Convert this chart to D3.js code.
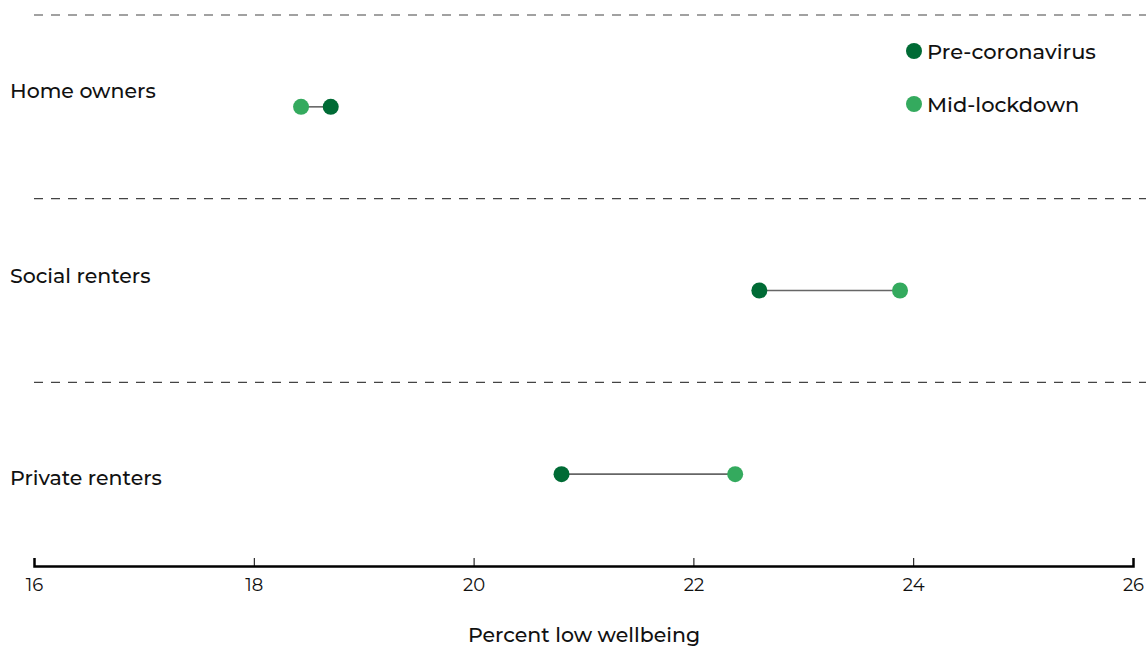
<!DOCTYPE html>
<html><head><meta charset="utf-8">
<script src="https://cdn.jsdelivr.net/npm/d3@7"></script>
<style>body{margin:0;background:#fff}svg{display:block;font-family:Montserrat,"Open Sans",Lato,sans-serif}</style>
</head><body><svg id="c" width="1146" height="647"></svg>
<script>
const categories = ["Home owners", "Social renters", "Private renters"];
const preCorona = [18.7, 22.6, 20.8];
const midLockdown = [18.43, 23.88, 22.38];
const xTicks = [16, 18, 20, 22, 24, 26];
const seriesNames = ["Pre-coronavirus", "Mid-lockdown"];
const colors = ["#006b35", "#34aa5e"];

const svg = d3.select("#c");
const x = d3.scaleLinear().domain([16, 26]).range([34, 1133]);
const y = d3.scaleBand().domain(categories).range([15, 566]);

// dashed separators
svg.selectAll("line.sep").data(categories).join("line")
  .attr("x1", 34).attr("x2", 1146)
  .attr("y1", d => y(d)).attr("y2", d => y(d))
  .attr("stroke", "#444").attr("stroke-width", 1.2).attr("stroke-dasharray", "9,8");

// labels
const labelOff = [-16, -15, 3];
svg.selectAll("text.cat").data(categories).join("text")
  .attr("x", 10).attr("y", (d,i) => y(d) + y.bandwidth()/2 + labelOff[i])
  .attr("dominant-baseline", "central")
  .attr("font-size", 20.5).attr("font-weight", 500).attr("fill", "#111").text(d => d);

// connectors
svg.selectAll("line.con").data(categories).join("line")
  .attr("x1", (d,i) => x(preCorona[i])).attr("x2", (d,i) => x(midLockdown[i]))
  .attr("y1", d => y(d) + y.bandwidth()/2).attr("y2", d => y(d) + y.bandwidth()/2)
  .attr("stroke", "#666").attr("stroke-width", 1.6);

svg.selectAll("circle.pre").data(categories).join("circle")
  .attr("cx", (d,i) => x(preCorona[i])).attr("cy", d => y(d) + y.bandwidth()/2)
  .attr("r", 8).attr("fill", colors[0]);
svg.selectAll("circle.mid").data(categories).join("circle")
  .attr("cx", (d,i) => x(midLockdown[i])).attr("cy", d => y(d) + y.bandwidth()/2)
  .attr("r", 8).attr("fill", colors[1]);

// axis
const ax = svg.append("g").attr("transform", "translate(0,566)")
  .call(d3.axisBottom(x).tickValues(xTicks).tickSize(-8).tickPadding(12).tickFormat(d3.format("d")));
ax.select(".domain").attr("stroke", "#000").attr("stroke-width", 2.5);
ax.selectAll(".tick line").attr("stroke", "#000").attr("stroke-width", 1);
ax.selectAll(".tick text").attr("font-size", 18).attr("fill", "#111").attr("font-family", "Montserrat,'Open Sans',Lato,sans-serif");

svg.append("text").attr("x", 584).attr("y", 642).attr("text-anchor", "middle")
  .attr("font-size", 20.5).attr("font-weight", 500).attr("fill", "#111").text("Percent low wellbeing");

// legend
const lg = svg.selectAll("g.lg").data(seriesNames).join("g")
  .attr("transform", (d,i) => `translate(914,${51 + i*53})`);
lg.append("circle").attr("r", 8).attr("fill", (d,i) => colors[i]);
lg.append("text").attr("x", 13).attr("dominant-baseline", "central")
  .attr("font-size", 21).attr("font-weight", 500).attr("fill", "#111").text(d => d);
</script></body></html>
